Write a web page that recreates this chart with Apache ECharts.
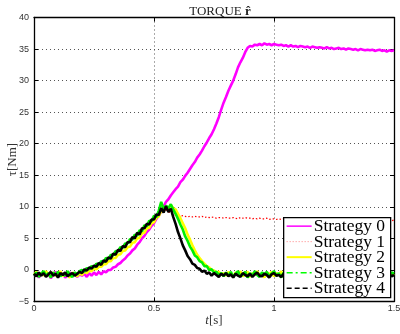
<!DOCTYPE html>
<html>
<head>
<meta charset="utf-8">
<script src="https://cdn.jsdelivr.net/npm/echarts@6/dist/echarts.min.js"></script>
<style>
  html, body { margin: 0; padding: 0; background: #fff; }
  #chart { width: 400px; height: 334px; }
</style>
</head>
<body>
<div id="chart"></div>
<script>
// Sample grid: 151 samples, 10 ms apart (0 .. 1.5 s)
const sampleCount = 151;
const sampleStep = 0.01;

const seriesNames = ['Strategy 0', 'Strategy 1', 'Strategy 2', 'Strategy 3', 'Strategy 4'];

const xTicks = [0, 0.5, 1, 1.5];
const yTicks = [-5, 0, 5, 10, 15, 20, 25, 30, 35, 40];

// Torque [Nm] per strategy, one value per sample
const strategy0 = [
  -0.9,-0.5,-1.2,-0.7,-0.4,-1.0,-0.6,-1.3,-0.8,-0.3,-1.1,-0.7,-0.5,-1.2,-0.8,-0.4,-1.0,-0.6,-1.1,-0.7,
  -0.9,-0.6,-1.1,-0.5,-0.9,-0.4,-0.8,-0.3,-0.7,-0.2,
  -0.4,0.0,0.0,0.4,0.5,0.9,1.1,1.5,1.8,2.3,
  2.6,3.1,3.4,4.0,4.4,5.0,5.4,6.0,6.4,7.0,
  7.4,8.1,8.6,9.4,10.0,10.8,11.2,11.8,12.3,12.8,
  13.2,13.9,14.3,14.9,15.4,16.0,16.6,17.1,17.8,18.3,
  18.9,19.6,20.2,20.9,21.5,22.3,23.2,24.2,25.4,26.5,
  27.4,28.4,29.2,30.0,31.0,32.1,32.9,33.6,34.5,35.2,
  35.5,35.4,35.7,35.6,35.8,35.6,35.9,35.7,35.8,35.6,
  35.8,35.7,35.6,35.7,35.5,35.6,35.4,35.6,35.4,35.5,
  35.3,35.5,35.4,35.3,35.4,35.2,35.4,35.3,35.2,35.3,
  35.2,35.1,35.3,35.1,35.2,35.0,35.1,35.2,35.0,35.1,
  34.9,35.1,35.0,34.9,35.0,34.8,35.0,34.9,34.8,34.9,
  34.8,34.9,34.7,34.8,34.9,34.7,34.8,34.6,34.8,34.7,34.8
];

const strategy1 = [
  -0.7,-0.9,-0.6,-0.8,-0.7,-1.0,-0.6,-0.8,-0.7,-0.9,-0.6,-0.8,-0.7,-0.9,-0.6,-0.8,-0.7,-0.9,-0.6,-0.7,
  -0.5,-0.3,-0.1,0.1,0.3,0.5,0.7,0.9,1.1,1.3,
  1.6,1.9,2.2,2.5,2.8,3.1,3.4,3.7,4.0,4.3,
  4.6,5.0,5.3,5.7,6.0,6.4,6.8,7.2,7.5,7.9,
  8.2,8.5,8.8,9.1,9.4,9.5,9.2,9.0,8.8,8.7,
  8.6,8.5,8.6,8.5,8.4,8.5,8.4,8.5,8.4,8.4,
  8.5,8.3,8.4,8.3,8.4,8.3,8.2,8.3,8.3,8.2,
  8.3,8.2,8.2,8.3,8.2,8.1,8.3,8.2,8.3,8.2,
  8.2,8.1,8.2,8.1,8.2,8.1,8.1,8.2,8.0,8.1,
  8.1,8.0,8.1,8.0,8.1,8.0,8.0,8.1,8.0,7.9,
  8.0,8.0,7.9,8.0,8.0,7.9,8.0,7.9,7.9,8.0,
  7.9,8.0,7.9,7.9,8.0,7.9,7.9,7.8,7.9,7.9,
  7.9,7.8,7.9,7.9,7.8,7.9,7.8,7.9,7.9,7.8,
  7.9,7.8,7.8,7.9,7.8,7.9,7.8,7.8,7.9,7.8,7.9
];

const strategy2 = [
  -0.8,-0.3,-1.0,-0.5,-0.9,-0.2,-0.7,-1.1,-0.4,-0.9,-0.6,-0.2,-1.0,-0.5,-0.8,-1.2,-0.4,-0.7,-1.0,-0.5,
  -0.8,-0.3,-0.5,-0.1,-0.2,0.2,0.1,0.5,0.5,0.9,
  0.9,1.4,1.4,1.9,1.9,2.4,2.5,3.0,3.1,3.6,
  3.7,4.3,4.4,5.0,5.1,5.8,5.9,6.6,6.7,7.4,
  7.6,8.3,8.5,9.4,9.3,10.0,9.6,10.3,9.8,9.6,
  8.9,8.2,7.4,6.6,5.6,4.8,3.9,3.1,2.4,1.9,
  1.4,1.0,0.6,0.4,0.0,-0.1,-0.4,-0.3,-0.8,-0.5,
  -0.9,-0.3,-0.7,-1.1,-0.4,-0.8,-0.2,-1.0,-0.6,-0.3,
  -1.1,-0.5,-0.8,-0.2,-0.9,-0.6,-1.2,-0.4,-0.7,-0.3,
  -1.0,-0.5,-0.8,-0.2,-1.1,-0.6,-0.4,-0.9,-0.3,-0.7,
  -1.0,-0.5,-0.8,-0.3,-1.2,-0.6,-0.4,-0.9,-0.2,-0.7,
  -1.0,-0.4,-0.8,-0.3,-1.1,-0.6,-0.5,-0.9,-0.2,-0.7,
  -1.0,-0.4,-0.8,-0.5,-1.1,-0.3,-0.6,-0.9,-0.2,-0.8,
  -1.0,-0.5,-0.7,-0.3,-1.1,-0.6,-0.4,-0.9,-0.5,-0.8,
  -0.6
];

const strategy3 = [
  -0.9,-0.4,-1.1,-0.6,-0.2,-0.9,-0.5,-1.2,-0.4,-0.8,-0.3,-1.0,-0.6,-0.9,-0.2,-0.8,-1.1,-0.4,-0.7,-0.2,
  0.0,-0.3,0.3,0.1,0.6,0.4,1.0,0.8,1.4,1.2,
  1.9,1.7,2.4,2.3,3.0,2.9,3.6,3.5,4.2,4.2,
  4.9,4.8,5.6,5.4,6.3,6.1,7.1,6.9,7.8,7.7,
  8.6,8.4,9.4,10.8,9.6,10.2,9.8,10.4,9.6,8.9,
  8.1,7.2,6.4,5.3,4.6,3.7,3.1,2.3,2.0,1.4,
  1.2,0.6,0.6,0.0,0.1,-0.4,-0.3,-0.8,-0.5,-1.0,
  -0.4,-0.9,-0.3,-1.1,-0.6,-0.2,-1.0,-0.7,-0.3,-1.2,
  -0.5,-0.9,-0.2,-0.8,-1.1,-0.4,-0.7,-0.3,-1.0,-0.6,
  -0.2,-0.9,-0.5,-1.2,-0.4,-0.8,-0.3,-1.0,-0.6,-0.2,
  -0.9,-0.5,-1.1,-0.4,-0.7,-0.3,-1.0,-0.6,-0.9,-0.2,
  -0.8,-0.5,-1.1,-0.4,-0.7,-0.3,-0.9,-0.6,-1.2,-0.4,
  -0.8,-0.2,-1.0,-0.5,-0.7,-0.3,-1.1,-0.6,-0.9,-0.4,
  -0.7,-0.2,-1.0,-0.5,-0.8,-0.3,-1.1,-0.6,-0.9,-0.4,
  -0.6
];

const strategy4 = [
  -0.6,-1.0,-0.4,-0.9,-0.5,-1.1,-0.7,-0.3,-0.9,-0.6,-1.2,-0.5,-0.8,-0.4,-1.0,-0.7,-0.5,-0.9,-0.6,-0.3,
  -0.5,0.1,-0.1,0.4,0.2,0.7,0.5,1.1,0.8,1.5,
  1.3,2.0,1.8,2.6,2.4,3.2,3.0,3.8,3.6,4.4,
  4.4,5.2,5.0,5.9,5.6,6.6,6.6,7.3,7.2,8.0,
  8.0,8.8,8.7,9.8,9.1,10.1,9.2,9.7,8.4,7.3,
  6.0,5.0,3.9,3.1,2.2,1.7,1.0,0.8,0.3,0.2,
  -0.3,-0.1,-0.6,-0.4,-0.9,-0.5,-0.8,-1.1,-0.6,-0.9,
  -0.5,-1.0,-0.7,-1.2,-0.6,-0.9,-1.1,-0.5,-0.8,-1.0,
  -0.6,-1.1,-0.7,-0.4,-0.9,-1.0,-0.6,-0.8,-1.2,-0.7,
  -0.5,-0.9,-0.8,-1.1,-0.6,-0.7,-1.0,-0.5,-0.9,-0.8,
  -1.1,-0.6,-0.8,-1.0,-0.7,-0.5,-0.9,-1.2,-0.6,-0.8,
  -0.7,-1.0,-0.6,-0.9,-1.1,-0.5,-0.8,-0.7,-1.0,-0.6,
  -0.9,-0.8,-1.1,-0.6,-0.7,-1.0,-0.5,-0.9,-0.8,-1.1,
  -0.6,-0.8,-1.0,-0.7,-0.9,-0.6,-1.1,-0.8,-0.7,-1.0,
  -0.8
];

const allSeries = [strategy0, strategy1, strategy2, strategy3, strategy4];

const traceColors = ['#ff00ff', '#ff0000', '#ffff00', '#00ee00', '#000000'];

// Dense sampling noise hides the dash pattern on the traces, so the traces are
// stroked solid; the key keeps each strategy's dash pattern.
const lineStyles = [
  { color: traceColors[0], width: 2.6, type: 'solid' },
  { color: traceColors[1], width: 1.2, type: [1.5, 2] },
  { color: traceColors[2], width: 2.6, type: 'solid' },
  { color: traceColors[3], width: 2.6, type: 'solid' },
  { color: traceColors[4], width: 2.6, type: 'solid' }
];
const keyStrokes = [
  { stroke: '#ff00ff', lineWidth: 1.5, lineDash: null },
  { stroke: '#ff8080', lineWidth: 1, lineDash: [1, 2] },
  { stroke: '#ffff00', lineWidth: 2, lineDash: null },
  { stroke: '#00ff00', lineWidth: 1.5, lineDash: [6, 3, 2, 3] },
  { stroke: '#000000', lineWidth: 1.5, lineDash: [5, 3] }
];

function pairs(values) {
  return values.map((v, i) => [+(i * sampleStep).toFixed(2), v]);
}

const serifFont = '"Liberation Serif", "DejaVu Serif", serif';
const sansFont = '"Liberation Sans", Arial, sans-serif';

const grid = { left: 34, top: 17.5, width: 360, height: 284, containLabel: false, outerBoundsMode: 'none' };

const gridLine = { show: true, lineStyle: { color: '#555', width: 1, type: [1, 3] } };
const frameLine = { show: true, onZero: false, lineStyle: { color: '#000', width: 1.3 } };
const innerTick = { show: true, inside: true, length: 4, lineStyle: { color: '#000', width: 1 } };

// Boxed key in the lower-right corner of the plot, stacked above the traces
const keyZ = 100;
const keyBox = { left: 283, top: 217, width: 107, height: 80, rowHeight: 15.5, firstRow: 8.5 };
const keyChildren = [{
  type: 'rect',
  z: keyZ, zlevel: 1,
  shape: { x: 0, y: 0, width: keyBox.width, height: keyBox.height },
  style: { fill: '#fff', stroke: '#000', lineWidth: 1.3 }
}];
seriesNames.forEach((name, i) => {
  const y = keyBox.firstRow + i * keyBox.rowHeight;
  keyChildren.push({
    type: 'line',
    z: keyZ + 1, zlevel: 1,
    shape: { x1: 3, y1: y, x2: 28, y2: y },
    style: keyStrokes[i]
  });
  keyChildren.push({
    type: 'text',
    z: keyZ + 1, zlevel: 1,
    x: 30, y: y + 0.5,
    style: { text: name, fontFamily: serifFont, fontSize: 17.5, fill: '#000', verticalAlign: 'middle', align: 'left' }
  });
});

const chart = echarts.init(document.getElementById('chart'), null, { renderer: 'canvas' });

chart.setOption({
  animation: false,
  backgroundColor: '#fff',
  title: {
    text: 'TORQUE {b|r\u0302}',
    left: 215,
    top: 0,
    textAlign: 'center',
    textStyle: {
      fontFamily: serifFont, fontSize: 13, fontWeight: 'normal', color: '#222',
      rich: { b: { fontFamily: serifFont, fontSize: 13, fontWeight: 'bold', color: '#222' } }
    }
  },
  grid: grid,
  legend: { show: false, data: seriesNames },
  graphic: [{
    type: 'group',
    left: keyBox.left,
    top: keyBox.top,
    zlevel: 1,
    z: keyZ,
    children: keyChildren
  }],
  xAxis: [
    {
      type: 'value', min: xTicks[0], max: xTicks[xTicks.length - 1], interval: 0.5,
      name: '{i|t}[s]', nameLocation: 'middle', nameGap: 13, nameMoveOverlap: false,
      nameTextStyle: {
        fontFamily: serifFont, fontSize: 13, color: '#333',
        rich: { i: { fontFamily: serifFont, fontSize: 13, fontStyle: 'italic', color: '#333' } }
      },
      axisLine: frameLine, axisTick: innerTick,
      axisLabel: { fontFamily: sansFont, fontSize: 9, color: '#333', margin: 3 },
      splitLine: gridLine
    },
    {
      type: 'value', position: 'top', min: xTicks[0], max: xTicks[xTicks.length - 1], interval: 0.5,
      axisLine: frameLine, axisTick: innerTick, axisLabel: { show: false }, splitLine: { show: false }
    }
  ],
  yAxis: [
    {
      type: 'value', min: yTicks[0], max: yTicks[yTicks.length - 1], interval: 5,
      name: '\u03c4[Nm]', nameLocation: 'middle', nameGap: 15, nameMoveOverlap: false,
      nameTextStyle: { fontFamily: serifFont, fontSize: 13, color: '#333' },
      axisLine: frameLine, axisTick: innerTick,
      axisLabel: {
        fontFamily: sansFont, fontSize: 9, color: '#333', margin: 5,
        formatter: v => String(v).replace('-', '\u2212')
      },
      splitLine: gridLine
    },
    {
      type: 'value', position: 'right', min: yTicks[0], max: yTicks[yTicks.length - 1], interval: 5,
      axisLine: frameLine, axisTick: innerTick, axisLabel: { show: false }, splitLine: { show: false }
    }
  ],
  // Series share one z; later series still paint over earlier ones
  series: allSeries.map((values, i) => ({
    name: seriesNames[i],
    type: 'line',
    xAxisIndex: 0,
    yAxisIndex: 0,
    data: pairs(values),
    symbol: 'none',
    showSymbol: false,
    color: traceColors[i],
    itemStyle: { color: traceColors[i] },
    lineStyle: lineStyles[i],
    z: 2,
    silent: true
  }))
});
</script>
</body>
</html>
